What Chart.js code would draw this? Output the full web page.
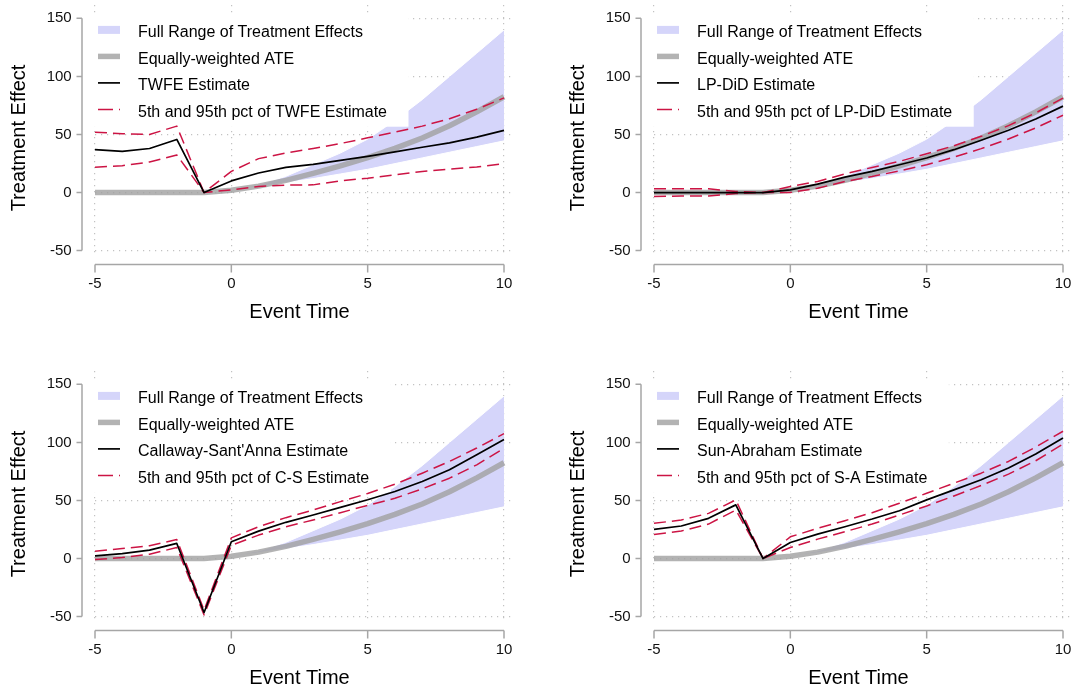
<!DOCTYPE html>
<html>
<head>
<meta charset="utf-8">
<title>Event study estimators</title>
<script src="https://cdn.jsdelivr.net/npm/chart.js@4.4.1/dist/chart.umd.min.js"></script>
<style>
  html, body { margin: 0; padding: 0; background: #fff; }
  #wrap { position: relative; width: 1073px; height: 690px; overflow: hidden; }
  canvas { position: absolute; }
</style>
</head>
<body>
<div id="wrap">
  <canvas id="twfe"  width="514" height="324" style="left:0;top:0"></canvas>
  <canvas id="lpdid" width="514" height="324" style="left:559px;top:0"></canvas>
  <canvas id="cs"    width="514" height="324" style="left:0;top:366px"></canvas>
  <canvas id="sa"    width="514" height="324" style="left:559px;top:366px"></canvas>
</div>
<script>
// event time and common series
const eventTime = [-5, -4, -3, -2, -1, 0, 1, 2, 3, 4, 5, 6, 7, 8, 9, 10];
const ate       = [0, 0, 0, 0, 0, 2, 5.5, 10.5, 16.5, 23, 30, 38, 47, 57.5, 69.5, 82.5];
const rangeLow  = [null, null, null, null, 0, 2, 5, 8.5, 12, 16, 20, 24.9, 29.8, 34.7, 39.6, 44.5];
const rangeHigh = [null, null, null, null, 0, 2.5, 6.5, 14, 24, 34, 46, 62, 80, 100, 120, 140];

// TWFE
const twfeEst = [37, 35.5, 37.9, 45.7, 0, 10, 16.8, 21.7, 24.3, 27.7, 31.2, 35, 39, 42.8, 47.7, 53.5];
const twfeHi  = [52, 50.6, 50, 57.2, 0, 18.2, 29.2, 34.1, 37.9, 42.2, 47.1, 52, 57.2, 63.6, 71.7, 81.5];
const twfeLo  = [21.7, 23.1, 26.3, 32.4, 0, 2.3, 5.2, 6.4, 6.6, 10.1, 12.4, 15.3, 18.2, 20.2, 22, 24.9];

// LP-DiD
const lpEst = [0, 0, 0, 0, 0, 2.3, 7.2, 13.3, 18.2, 23.9, 29.7, 36.9, 45, 53.6, 63.4, 74.4];
const lpHi  = [3.2, 3.2, 3.2, 0.9, 0, 5.2, 9.5, 16.1, 21.6, 26.8, 33.4, 40.3, 48.4, 57.6, 68.6, 81.3];
const lpLo  = [-3.5, -2.9, -2.9, -0.9, 0, 0, 3.7, 9.5, 13.8, 18.7, 23.9, 30.5, 37.8, 46.1, 55.6, 66.6];

// Callaway-Sant'Anna
const csEst = [2.3, 4.3, 7.2, 13, -46.5, 14.5, 23.6, 31.2, 37.5, 44.1, 50.6, 57.7, 66.3, 76.4, 89.4, 102.5];
const csHi  = [6.3, 8.6, 11, 16.4, -44.5, 17.8, 27.4, 35.2, 41.8, 49, 56, 64, 73.5, 83.6, 95.2, 107.5];
const csLo  = [-0.9, 0.9, 3.7, 9.5, -48.5, 11.3, 20.2, 27.4, 33.2, 39.5, 45.8, 51.9, 60, 69.2, 80.7, 95];

// Sun-Abraham
const saEst = [25.1, 28, 34.6, 46.2, 0, 13.8, 21, 27.4, 34, 41.2, 50.5, 59.1, 67.8, 77.9, 90, 103.8];
const saHi  = [30.3, 33.2, 38.9, 50.5, 0, 18.7, 26, 32.6, 39.5, 47.6, 56.2, 64.9, 73.5, 83.6, 96, 109.6];
const saLo  = [20.8, 23.7, 29.7, 41.8, 0, 9.5, 16.7, 23.1, 29.7, 37.5, 45.3, 53.9, 62.9, 72.7, 84.2, 98.6];

const xTicks = [-5, 0, 5, 10];
const yTicks = [-50, 0, 50, 100, 150];

const FONT = '"Liberation Sans", Arial, Helvetica, sans-serif';
const BAND = '#d5d5fa';
const RED = '#cc1444';
const AXIS = '#a6a6a6';

const pts = arr => eventTime.map((t, i) => ({x: t, y: arr[i]}));

// axes, key and titles drawn stata-style
const frame = {
  id: 'frame',
  beforeDatasetDraw(chart, args, opts) {
    if (args.index !== 3) return;          // white key box goes under the ATE line
    const {ctx, chartArea: a} = chart;
    ctx.save();
    ctx.font = '16px ' + FONT;
    const w = Math.max(...opts.labels.map(s => ctx.measureText(s).width));
    ctx.fillStyle = '#fff';
    ctx.fillRect(a.left - 6, a.top + 10, 6 + 43 + w + 21.5, 111.7);
    ctx.restore();
  },
  afterDatasetsDraw(chart, args, opts) {
    const {ctx, chartArea: a} = chart;
    const x0 = a.left + 3, x1 = a.left + 25;
    ctx.save();
    opts.labels.forEach((txt, i) => {
      const cy = a.top + 26.7 + i * 26.5;
      const sy = cy - 1.8;
      ctx.setLineDash([]);
      if (i === 0) {
        ctx.fillStyle = BAND;
        ctx.fillRect(x0, sy - 4, x1 - x0, 8);
      } else {
        ctx.beginPath();
        ctx.moveTo(x0, sy);
        ctx.lineTo(x1, sy);
        if (i === 1) { ctx.strokeStyle = 'rgba(160,160,160,0.8)'; ctx.lineWidth = 5.5; }
        if (i === 2) { ctx.strokeStyle = '#000'; ctx.lineWidth = 1.7; }
        if (i === 3) { ctx.strokeStyle = RED; ctx.lineWidth = 1.5; ctx.setLineDash([15, 6]); }
        ctx.stroke();
      }
      ctx.fillStyle = '#000';
      ctx.font = '16px ' + FONT;
      ctx.textAlign = 'left';
      ctx.textBaseline = 'alphabetic';
      ctx.fillText(txt, a.left + 43, cy + 5.7);
    });
    ctx.restore();
  },
  afterDraw(chart) {
    const {ctx, chartArea: a, scales: {x, y}} = chart;
    const axX = a.left - 13;
    const axY = a.bottom + 8;
    ctx.save();
    ctx.strokeStyle = AXIS;
    ctx.lineWidth = 1.5;
    ctx.setLineDash([]);
    ctx.beginPath();
    ctx.moveTo(axX, y.getPixelForValue(yTicks[yTicks.length - 1]));
    ctx.lineTo(axX, y.getPixelForValue(yTicks[0]));
    yTicks.forEach(v => {
      const p = y.getPixelForValue(v);
      ctx.moveTo(axX - 5.5, p);
      ctx.lineTo(axX, p);
    });
    ctx.moveTo(x.getPixelForValue(xTicks[0]), axY);
    ctx.lineTo(x.getPixelForValue(xTicks[xTicks.length - 1]), axY);
    xTicks.forEach(v => {
      const p = x.getPixelForValue(v);
      ctx.moveTo(p, axY);
      ctx.lineTo(p, axY + 8);
    });
    ctx.stroke();

    ctx.fillStyle = '#000';
    ctx.font = '20px ' + FONT;
    ctx.textAlign = 'center';
    ctx.textBaseline = 'alphabetic';
    const midX = (x.getPixelForValue(xTicks[0]) + x.getPixelForValue(xTicks[xTicks.length - 1])) / 2;
    ctx.fillText('Event Time', midX, a.bottom + 62);
    ctx.translate(25, 138);
    ctx.rotate(-Math.PI / 2);
    ctx.fillText('Treatment Effect', 0, 0);
    ctx.restore();
  }
};

function panel(id, est, hi, lo, labels) {
  const canvas = document.getElementById(id);
  const H = canvas.height;
  return new Chart(canvas, {
    type: 'line',
    data: {
      datasets: [
        {label: labels[2], data: pts(est), borderColor: '#000', borderWidth: 1.7, order: 0},
        {label: labels[3], data: pts(hi), borderColor: RED, borderWidth: 1.5, borderDash: [12, 6], order: 1},
        {label: labels[3], data: pts(lo), borderColor: RED, borderWidth: 1.5, borderDash: [12, 6], order: 1},
        {label: labels[1], data: pts(ate), borderColor: 'rgba(160,160,160,0.8)', borderWidth: 5.5, order: 3},
        {label: 'low', data: pts(rangeLow), borderColor: '#fff', borderWidth: 1, order: 5},
        {label: labels[0], data: pts(rangeHigh), borderColor: '#fff', borderWidth: 1,
         backgroundColor: BAND, fill: 4, order: 4}
      ]
    },
    options: {
      responsive: false,
      animation: false,
      devicePixelRatio: 1,
      layout: {padding: {top: 5, right: 1, left: 0, bottom: 0}},
      elements: {
        point: {radius: 0, hoverRadius: 0},
        line: {tension: 0, borderJoinStyle: 'round'}
      },
      scales: {
        x: {
          type: 'linear', min: -5, max: 10.33,
          afterBuildTicks: s => { s.ticks = xTicks.map(v => ({value: v})); },
          afterFit: s => { s.height = H - 256.4; s.paddingLeft = 0; s.paddingRight = 0; },
          grid: {color: '#c2c2c2', lineWidth: 1.2, drawTicks: false},
          border: {display: false, dash: [1.2, 4.8]},
          ticks: {font: {family: FONT, size: 15}, color: '#111', padding: 18, maxRotation: 0, autoSkip: false}
        },
        y: {
          type: 'linear', min: -55, max: 161.5,
          afterBuildTicks: s => { s.ticks = yTicks.map(v => ({value: v})); },
          afterFit: s => { s.width = 95; s.paddingTop = 0; s.paddingBottom = 0; },
          grid: {color: '#c2c2c2', lineWidth: 1.2, drawTicks: false},
          border: {display: false, dash: [1.2, 4.8]},
          ticks: {font: {family: FONT, size: 15}, color: '#111', padding: 23.3}
        }
      },
      plugins: {
        legend: {display: false},
        tooltip: {enabled: false},
        filler: {drawTime: 'beforeDatasetsDraw'},
        frame: {labels: labels}
      }
    },
    plugins: [frame]
  });
}

panel('twfe', twfeEst, twfeHi, twfeLo, [
  'Full Range of Treatment Effects', 'Equally-weighted ATE',
  'TWFE Estimate', '5th and 95th pct of TWFE Estimate']);
panel('lpdid', lpEst, lpHi, lpLo, [
  'Full Range of Treatment Effects', 'Equally-weighted ATE',
  'LP-DiD Estimate', '5th and 95th pct of LP-DiD Estimate']);
panel('cs', csEst, csHi, csLo, [
  'Full Range of Treatment Effects', 'Equally-weighted ATE',
  'Callaway-Sant\'Anna Estimate', '5th and 95th pct of C-S Estimate']);
panel('sa', saEst, saHi, saLo, [
  'Full Range of Treatment Effects', 'Equally-weighted ATE',
  'Sun-Abraham Estimate', '5th and 95th pct of S-A Estimate']);
</script>
</body>
</html>
